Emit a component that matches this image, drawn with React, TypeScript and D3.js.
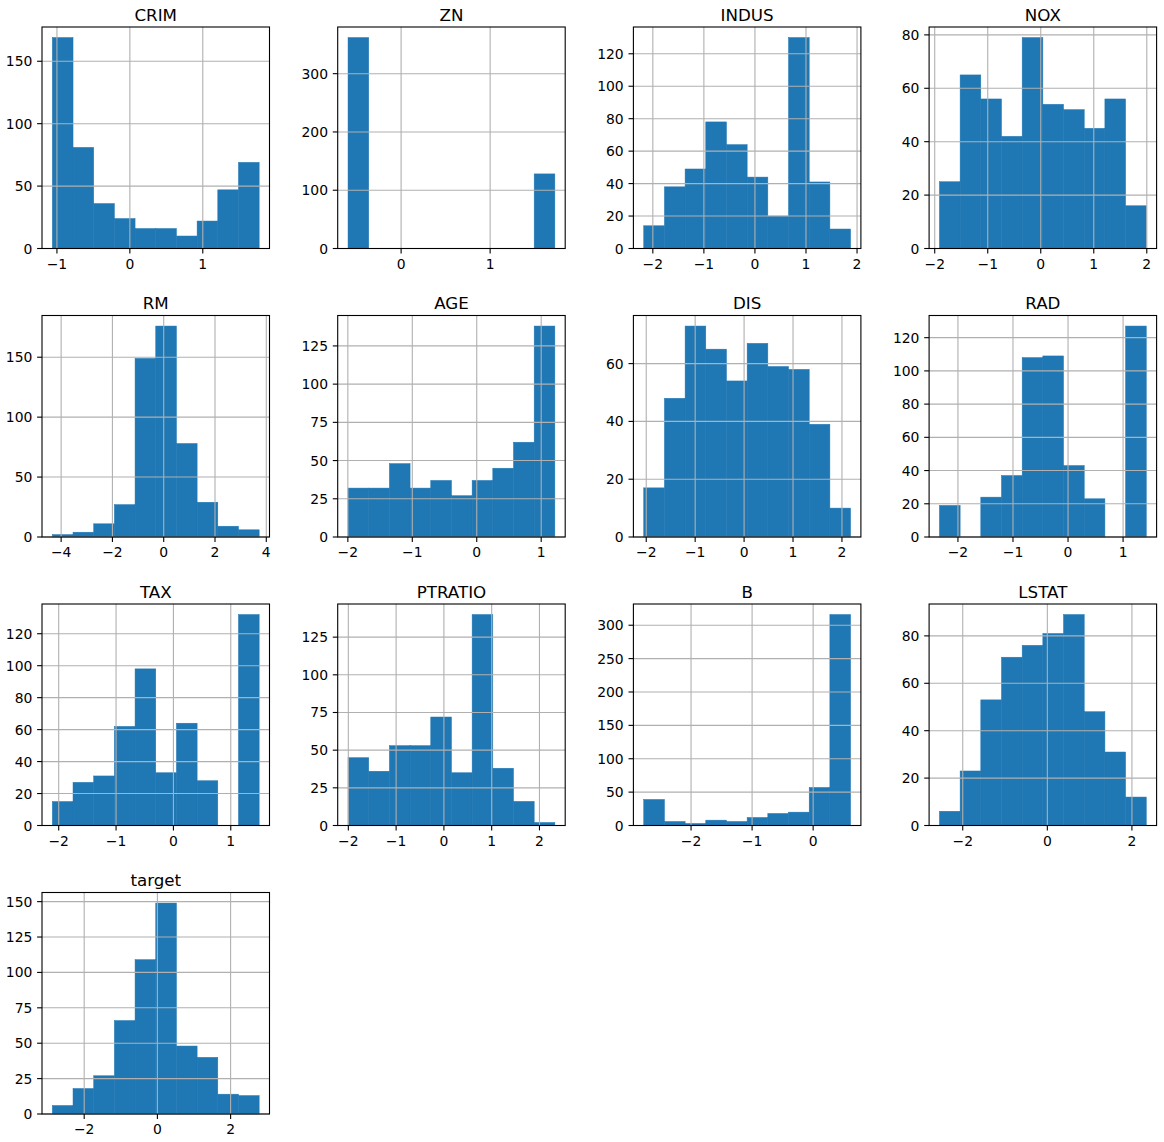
import React from "react";
import * as d3 from "d3";

const names = ["CRIM", "ZN", "INDUS", "NOX", "RM", "AGE", "DIS", "RAD", "TAX", "PTRATIO", "B", "LSTAT", "target"];
const binMin = [-1.063, -0.596, -2.178, -1.911, -4.343, -1.997, -2.051, -2.336, -2.111, -2.006, -2.775, -2.551, -2.87];
const binMax = [1.773, 1.727, 1.873, 1.99, 3.722, 1.212, 2.176, 1.421, 1.495, 2.322, 0.613, 2.339, 2.78];
const counts = [
  [169, 81, 36, 24, 16, 16, 10, 22, 47, 69],
  [362, 0, 0, 0, 0, 0, 0, 0, 0, 128],
  [14, 38, 49, 78, 64, 44, 20, 130, 41, 12],
  [25, 65, 56, 42, 79, 54, 52, 45, 56, 16],
  [2, 4, 11, 27, 149, 176, 78, 29, 9, 6],
  [32, 32, 48, 32, 37, 27, 37, 45, 62, 138],
  [17, 48, 73, 65, 54, 67, 59, 58, 39, 10],
  [19, 0, 24, 37, 108, 109, 43, 23, 0, 127],
  [15, 27, 31, 62, 98, 33, 64, 28, 0, 132],
  [45, 36, 53, 53, 72, 35, 140, 38, 16, 2],
  [39, 6, 3, 8, 6, 12, 18, 20, 57, 316],
  [6, 23, 53, 71, 76, 81, 89, 48, 31, 12],
  [6, 18, 27, 66, 109, 149, 48, 40, 14, 13],
];
const xTicks = [
  [-1, 0, 1],
  [0, 1],
  [-2, -1, 0, 1, 2],
  [-2, -1, 0, 1, 2],
  [-4, -2, 0, 2, 4],
  [-2, -1, 0, 1],
  [-2, -1, 0, 1, 2],
  [-2, -1, 0, 1],
  [-2, -1, 0, 1],
  [-2, -1, 0, 1, 2],
  [-2, -1, 0],
  [-2, 0, 2],
  [-2, 0, 2],
];
const yTicks = [
  [0, 50, 100, 150],
  [0, 100, 200, 300],
  [0, 20, 40, 60, 80, 100, 120],
  [0, 20, 40, 60, 80],
  [0, 50, 100, 150],
  [0, 25, 50, 75, 100, 125],
  [0, 20, 40, 60],
  [0, 20, 40, 60, 80, 100, 120],
  [0, 20, 40, 60, 80, 100, 120],
  [0, 25, 50, 75, 100, 125],
  [0, 50, 100, 150, 200, 250, 300],
  [0, 20, 40, 60, 80],
  [0, 25, 50, 75, 100, 125, 150],
];

const W = 1164;
const H = 1142;
const colLeft = 42;
const colStep = 295.7;
const rowTop = 27;
const rowStep = 288.5;
const axW = 227.5;
const axH = 221.5;
const BLUE = "#1f77b4";
const GRID = "#b0b0b0";
const FONT = "DejaVu Sans, sans-serif";
const fmt = (v: number) => (v < 0 ? "\u2212" + Math.abs(v) : String(v));

function Panel({ i }: { i: number }) {
  const col = i % 4;
  const row = Math.floor(i / 4);
  const x0 = colLeft + col * colStep;
  const y0 = rowTop + row * rowStep;
  const lo = binMin[i];
  const hi = binMax[i];
  const r = hi - lo;
  const data = counts[i];
  const n = data.length;
  const x = d3.scaleLinear().domain([lo - 0.05 * r, hi + 0.05 * r]).range([0, axW]);
  const ymax = d3.max(data) as number;
  const y = d3.scaleLinear().domain([0, ymax * 1.05]).range([axH, 0]);
  const bw = r / n;
  return (
    <g transform={`translate(${x0},${y0})`}>
      {data.map((c, k) =>
        c > 0 ? (
          <rect
            key={k}
            x={x(lo + k * bw)}
            width={x(lo + (k + 1) * bw) - x(lo + k * bw)}
            y={y(c)}
            height={y(0) - y(c)}
            fill={BLUE}
            stroke={BLUE}
            strokeWidth={0.5}
          />
        ) : null
      )}
      {xTicks[i].map((t) => (
        <line key={"gx" + t} x1={x(t)} x2={x(t)} y1={0} y2={axH} stroke={GRID} strokeWidth={1.1} />
      ))}
      {yTicks[i].map((t) => (
        <line key={"gy" + t} x1={0} x2={axW} y1={y(t)} y2={y(t)} stroke={GRID} strokeWidth={1.1} />
      ))}
      <rect x={0} y={0} width={axW} height={axH} fill="none" stroke="#000" strokeWidth={1.1} />
      {xTicks[i].map((t) => (
        <g key={"tx" + t}>
          <line x1={x(t)} x2={x(t)} y1={axH} y2={axH + 4.9} stroke="#000" strokeWidth={1.1} />
          <text x={x(t)} y={axH + 20.2} textAnchor="middle" fontSize={13.9} fontFamily={FONT} fill="#000">
            {fmt(t)}
          </text>
        </g>
      ))}
      {yTicks[i].map((t) => (
        <g key={"ty" + t}>
          <line x1={-4.9} x2={0} y1={y(t)} y2={y(t)} stroke="#000" strokeWidth={1.1} />
          <text x={-9.7} y={y(t)} dy="0.36em" textAnchor="end" fontSize={13.9} fontFamily={FONT} fill="#000">
            {fmt(t)}
          </text>
        </g>
      ))}
      <text x={axW / 2} y={-6.4} textAnchor="middle" fontSize={16.7} fontFamily={FONT} fill="#000">
        {names[i]}
      </text>
    </g>
  );
}

export default function App() {
  return (
    <svg
      width={W}
      height={H}
      style={{ position: "absolute", left: 0, top: 0, background: "#fff" }}
      xmlns="http://www.w3.org/2000/svg"
    >
      <rect x={0} y={0} width={W} height={H} fill="#fff" />
      {names.map((_, i) => (
        <Panel key={i} i={i} />
      ))}
    </svg>
  );
}
